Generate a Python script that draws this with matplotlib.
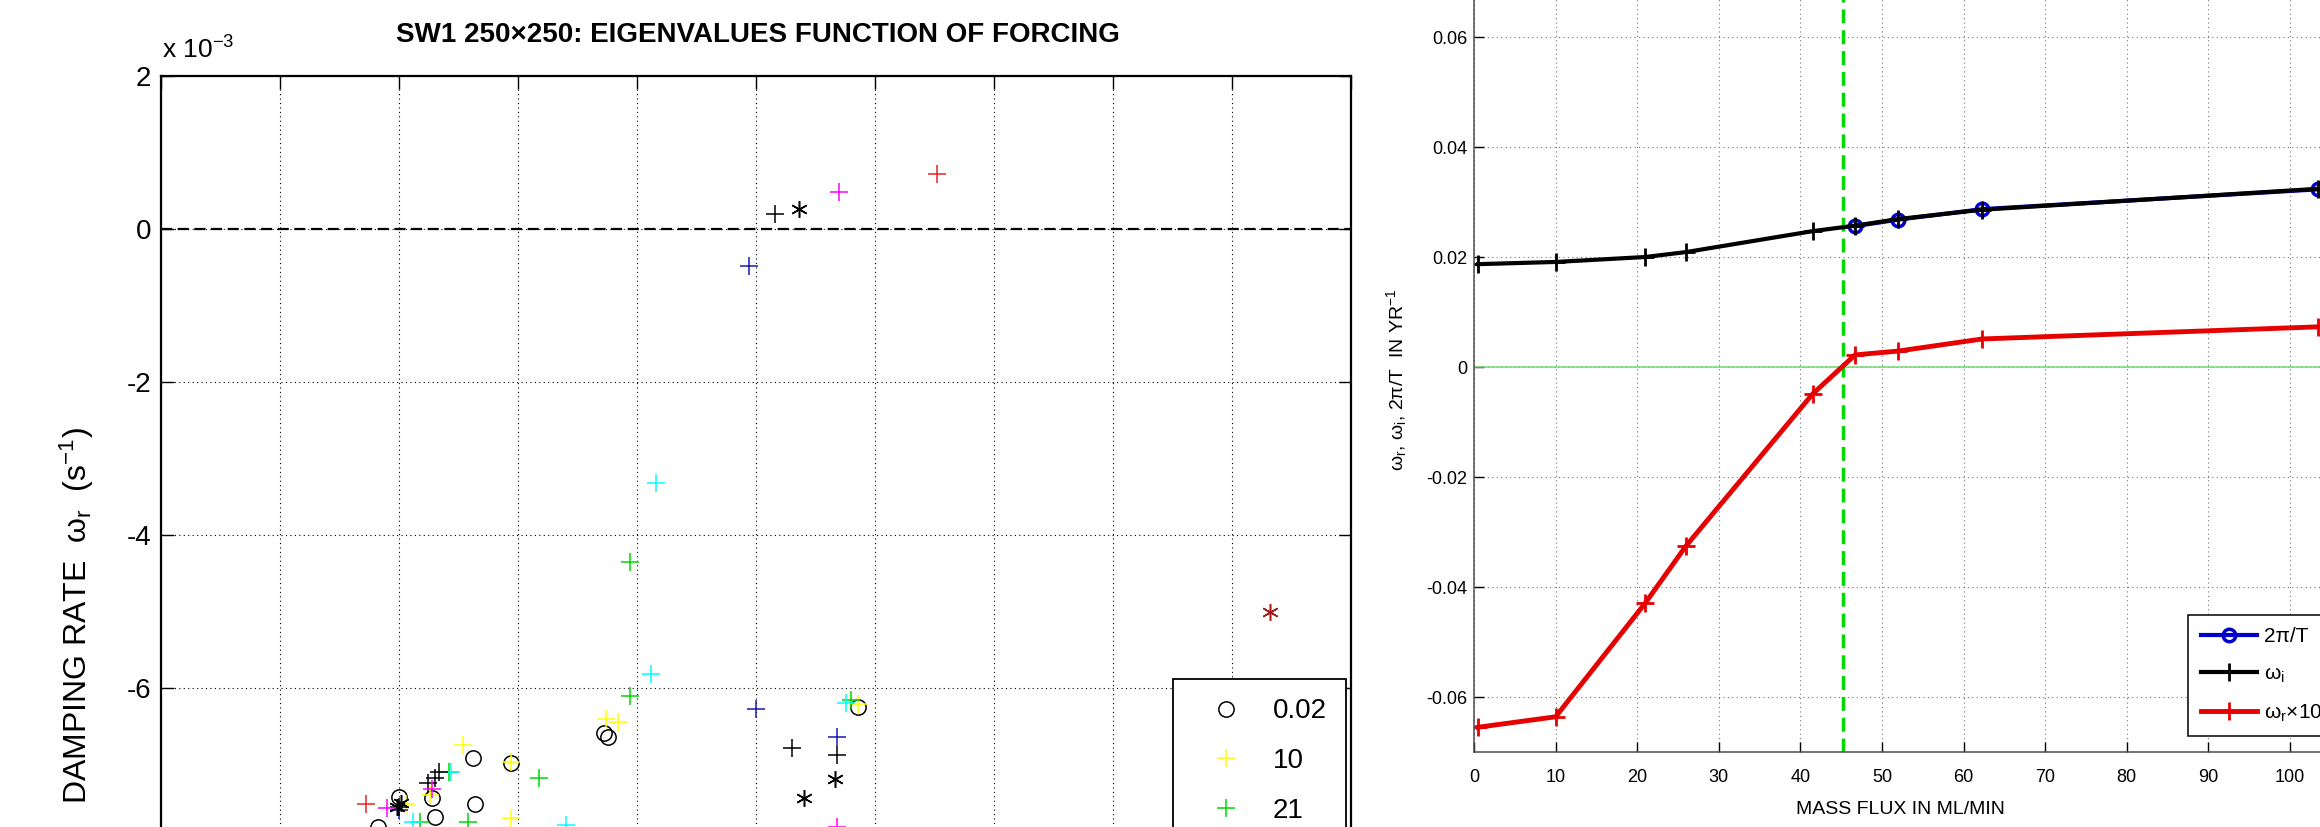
import numpy as np
import matplotlib
matplotlib.use('Agg')
import matplotlib.pyplot as plt

plt.rcParams['font.family'] = ['Liberation Sans', 'DejaVu Sans']
plt.rcParams['mathtext.fontset'] = 'custom'
plt.rcParams['mathtext.rm'] = 'Liberation Sans'
plt.rcParams['mathtext.it'] = 'Liberation Sans'

# ---- left panel: eigenvalues (omega_i, omega_r in 1e-3 s^-1) per forcing ----
wi_002 = [0.0186, 0.0188, 0.0293, 0.0131, 0.0147, 0.0132, 0.0100, 0.0114, 0.0115, 0.0091]
wr_002 = [-6.59, -6.64, -6.25, -6.91, -6.98, -7.51, -7.42, -7.44, -7.68, -7.82]
wi_10 = [0.0187, 0.0192, 0.0127, 0.0147, 0.0293, 0.0113, 0.0103, 0.0147]
wr_10 = [-6.41, -6.45, -6.75, -6.97, -6.21, -7.40, -7.51, -7.70]
wi_21 = [0.0197, 0.0197, 0.0159, 0.0121, 0.0290, 0.0109, 0.0129]
wr_21 = [-4.35, -6.11, -7.17, -7.10, -6.16, -7.75, -7.75]
wi_26 = [0.0208, 0.0206, 0.0288, 0.0122, 0.0106, 0.0170]
wr_26 = [-3.32, -5.82, -6.19, -7.10, -7.75, -7.79]
wi_41 = [0.0247, 0.0250, 0.0284, 0.0100]
wr_41 = [-0.48, -6.27, -6.64, -7.60]
wi_46 = [0.0258, 0.0265, 0.0284, 0.0115, 0.0117, 0.0112, 0.0100]
wr_46 = [0.20, -6.79, -6.88, -7.18, -7.10, -7.24, -7.55]
wi_52 = [0.0268, 0.0283, 0.0270, 0.0099, 0.0101]
wr_52 = [0.26, -7.19, -7.44, -7.55, -7.50]
wi_62 = [0.0285, 0.0114, 0.0095, 0.0284]
wr_62 = [0.48, -7.32, -7.57, -7.82]
wi_104 = [0.0326, 0.0086]
wr_104 = [0.72, -7.52]
wi_other = [0.0466]
wr_other = [-5.00]

# only the first three legend rows are inside the picture
legend_labels = ['0.02', '10', '21']
left_yticks = [-6, -4, -2, 0, 2]

# ---- right panel: vs mass flux ----
flux = [0.5, 10, 21, 26, 41.5, 46.7, 52, 62.3, 103.4]
omega_i = [0.0187, 0.0191, 0.0200, 0.0209, 0.0247, 0.0257, 0.0269, 0.0286, 0.0324]
omega_r10 = [-0.0655, -0.0636, -0.0429, -0.0325, -0.0049, 0.0022, 0.0029, 0.0051, 0.0073]
flux_T = [46.7, 52, 62.3, 103.4]
two_pi_T = [0.0256, 0.0268, 0.0287, 0.0323]
threshold = 45.2
right_yticks = [-0.06, -0.04, -0.02, 0, 0.02, 0.04, 0.06]
right_yticklabels = ['-0.06', '-0.04', '-0.02', '0', '0.02', '0.04', '0.06']
right_xticks = [0, 10, 20, 30, 40, 50, 60, 70, 80, 90, 100]

# asterisk marker like MATLAB '*'
ast = (6, 2, 0)

W, H = 2320, 827
fig = plt.figure(figsize=(W / 100, H / 100), dpi=100)

# left axes (extends below the crop)
ax1 = fig.add_axes([161 / W, 1 - 994 / H, 1190 / W, (994 - 76) / H])
ax1.set_xlim(0, 0.05)
ax1.set_ylim(-10, 2)
ax1.set_xticks(np.arange(0, 0.0501, 0.005))
ax1.set_yticks(left_yticks)
ax1.set_yticklabels([str(t) for t in left_yticks])
ax1.grid(True, ls=(0, (1, 3)), color='k', lw=0.8)
ax1.tick_params(direction='in', top=True, right=True, length=9, width=1, labelsize=20, pad=7)
ax1.tick_params(axis='x', labelbottom=False)
for s in ax1.spines.values():
    s.set_linewidth(1.6)
ax1.axhline(0, color='k', ls=(0, (5, 2.5)), lw=1.6)

series = [
    (wi_002, wr_002, 'o', 'k', 11),
    (wi_10, wr_10, '+', (1, 1, 0), 13),
    (wi_21, wr_21, '+', (0, 0.85, 0), 13),
    (wi_26, wr_26, '+', (0, 1, 1), 13),
    (wi_41, wr_41, '+', (0.1, 0.1, 0.7), 13),
    (wi_46, wr_46, '+', 'k', 13),
    (wi_52, wr_52, ast, 'k', 12),
    (wi_62, wr_62, '+', (1, 0, 1), 13),
    (wi_104, wr_104, '+', (0.9, 0.15, 0.15), 13),
]
handles = []
for x, y, m, c, ms in series:
    h, = ax1.plot(x, y, ls='none', marker=m, color=c, mfc='none', ms=ms, mew=1.1)
    handles.append(h)
ax1.plot(wi_other, wr_other, ls='none', marker=ast, color=(0.65, 0.1, 0.1), ms=12, mew=1.1)

leg1 = ax1.legend(handles[:len(legend_labels)], legend_labels,
                  loc='upper left', bbox_to_anchor=(1173 / W, 1 - 679 / H),
                  bbox_transform=fig.transFigure, borderaxespad=0, fontsize=20,
                  numpoints=1, handlelength=2.4, handletextpad=0.5, borderpad=0.7,
                  labelspacing=0.85, fancybox=False, framealpha=1, edgecolor='k')
leg1.get_frame().set_linewidth(1.3)

fig.text(758 / W, 1 - 35 / H, 'SW1 250×250: EIGENVALUES FUNCTION OF FORCING',
         ha='center', va='center', fontsize=20, fontweight='bold')
fig.text(162 / W, 1 - 64 / H, r'x 10$^{-3}$', ha='left', va='bottom', fontsize=19)
fig.text(77 / W, 1 - 616 / H, r'DAMPING RATE  ω$_r$  (s$^{-1}$)', rotation=90,
         ha='center', va='center', fontsize=23)

# right axes (extends above and to the right of the crop)
ax2 = fig.add_axes([1474 / W, 1 - 752 / H, 897.6 / W, 825 / H])
ax2.set_xlim(0, 110)
ax2.set_ylim(-0.07, 0.08)
ax2.set_xticks(right_xticks)
ax2.set_yticks(right_yticks)
ax2.set_yticklabels(right_yticklabels)
ax2.grid(True, ls=(0, (1, 3)), color=(0.45, 0.45, 0.45), lw=0.8)
ax2.tick_params(direction='in', top=True, right=True, length=7, width=1, labelsize=13, pad=5)
ax2.tick_params(axis='x', pad=12)
for s in ax2.spines.values():
    s.set_linewidth(1.1)
    s.set_color((0.3, 0.3, 0.3))

ax2.axhline(0, color=(0.45, 0.85, 0.45), lw=1.1)
ax2.axvline(threshold, color=(0, 0.85, 0), ls=(0, (4, 2)), lw=2.5)
ax2.plot(flux_T, two_pi_T, '-o', color=(0, 0, 0.8), lw=3, ms=9, mfc='none', mew=2.5, label='2π/T')
ax2.plot(flux, omega_i, '-+', color='k', lw=3, ms=13, mew=2, label=r'ω$_i$')
ax2.plot(flux, omega_r10, '-+', color=(0.9, 0, 0), lw=3.5, ms=13, mew=2, label=r'ω$_r$×10')

leg2 = ax2.legend(loc='upper left', bbox_to_anchor=(2188 / W, 1 - 615 / H),
                  bbox_transform=fig.transFigure, borderaxespad=0, fontsize=15,
                  handlelength=2.7, handletextpad=0.35, borderpad=0.6,
                  labelspacing=0.85, fancybox=False, framealpha=1, edgecolor='k')
leg2.get_frame().set_linewidth(1.1)

fig.text(1397 / W, 1 - 380 / H, r'ω$_r$, ω$_i$, 2π/T  IN YR$^{-1}$', rotation=90,
         ha='center', va='center', fontsize=14)
fig.text(1900 / W, 1 - 810 / H, 'MASS FLUX IN ML/MIN', ha='center', va='center', fontsize=14)

fig.savefig('out.png', dpi=100)
